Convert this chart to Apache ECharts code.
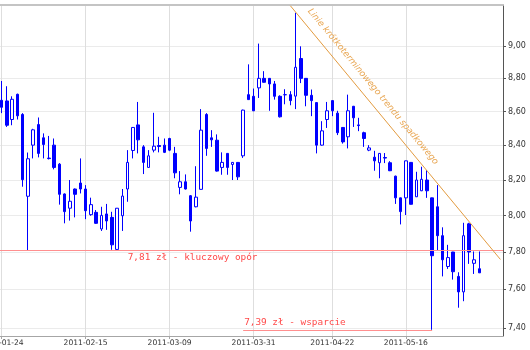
<!DOCTYPE html>
<html><head><meta charset="utf-8">
<script src="https://cdn.jsdelivr.net/npm/echarts@6/dist/echarts.min.js"></script>
<style>html,body{margin:0;padding:0;background:#fff}#c{width:530px;height:350px}</style>
</head><body><div id="c"></div>
<script>
const dates = ['2011-01-24','2011-01-25','2011-01-26','2011-01-27','2011-01-28',
'2011-01-31','2011-02-01','2011-02-02','2011-02-03','2011-02-04',
'2011-02-07','2011-02-08','2011-02-09','2011-02-10','2011-02-11',
'2011-02-14','2011-02-15','2011-02-16','2011-02-17','2011-02-18',
'2011-02-21','2011-02-22','2011-02-23','2011-02-24','2011-02-25',
'2011-02-28','2011-03-01','2011-03-02','2011-03-03','2011-03-04',
'2011-03-07','2011-03-08','2011-03-09','2011-03-10','2011-03-11',
'2011-03-14','2011-03-15','2011-03-16','2011-03-17','2011-03-18',
'2011-03-21','2011-03-22','2011-03-23','2011-03-24','2011-03-25',
'2011-03-28','2011-03-29','2011-03-30','2011-03-31','2011-04-01',
'2011-04-04','2011-04-05','2011-04-06','2011-04-07','2011-04-08',
'2011-04-11','2011-04-12','2011-04-13','2011-04-14','2011-04-15',
'2011-04-18','2011-04-19','2011-04-20','2011-04-22',
'2011-04-26','2011-04-27','2011-04-28','2011-04-29',
'2011-05-02','2011-05-04','2011-05-05','2011-05-06',
'2011-05-09','2011-05-10','2011-05-11','2011-05-12','2011-05-13',
'2011-05-16','2011-05-17','2011-05-18','2011-05-19','2011-05-20',
'2011-05-23','2011-05-24','2011-05-25','2011-05-26','2011-05-27',
'2011-05-30','2011-05-31','2011-06-01','2011-06-02','2011-06-03'];

const opens = [8.667,8.663,8.552,8.703,8.582,8.108,8.401,8.522,8.444,8.326,
8.401,8.291,8.121,8.041,8.149,8.183,8.149,8.005,8.018,7.926,
8.009,7.990,7.814,7.999,8.149,8.370,8.520,8.391,8.272,8.372,
8.399,8.401,8.440,8.353,8.158,8.190,8.111,8.049,8.147,8.582,
8.444,8.430,8.272,8.353,8.289,8.301,8.339,8.701,8.691,8.742,
8.800,8.800,8.766,8.691,8.701,8.701,8.692,8.922,8.800,8.697,
8.653,8.401,8.552,8.665,8.590,8.505,8.450,8.631,8.520,8.474,
8.372,8.331,8.299,8.329,8.299,8.222,8.099,8.099,8.301,8.105,
8.139,8.200,8.099,8.049,7.889,7.722,7.800,7.669,7.587,7.954,
7.739,7.710];

const closes = [8.625,8.518,8.673,8.574,8.202,8.322,8.491,8.353,8.405,8.323,
8.272,8.119,8.022,8.080,8.119,8.149,8.027,8.061,7.957,8.001,
7.970,7.839,8.041,8.109,8.301,8.505,8.432,8.301,8.339,8.395,
8.393,8.359,8.372,8.241,8.190,8.149,7.970,8.103,8.489,8.382,
8.432,8.251,8.301,8.272,8.301,8.218,8.608,8.671,8.604,8.800,
8.776,8.766,8.691,8.568,8.700,8.665,8.868,8.800,8.697,8.665,
8.401,8.485,8.604,8.604,8.474,8.420,8.604,8.562,8.516,8.440,
8.385,8.310,8.353,8.326,8.253,8.099,8.022,8.310,8.063,8.200,
8.204,8.139,7.780,7.889,7.758,7.770,7.694,7.587,7.889,7.800,
7.758,7.688];

const lows = [8.590,8.508,8.518,8.552,8.162,7.810,8.324,8.330,8.324,8.318,
8.261,8.061,7.957,7.972,7.990,8.124,7.980,7.999,7.954,7.915,
7.921,7.812,7.810,7.915,8.077,8.324,8.353,8.234,8.271,8.359,
8.359,8.355,8.366,8.210,8.119,8.146,7.911,8.046,8.146,8.339,
8.391,8.248,8.230,8.230,8.200,8.200,8.327,8.670,8.602,8.681,
8.774,8.604,8.671,8.564,8.643,8.637,8.614,8.771,8.631,8.572,
8.353,8.398,8.502,8.572,8.460,8.410,8.382,8.508,8.483,8.391,
8.366,8.253,8.210,8.297,8.251,8.065,7.951,8.003,8.062,8.104,
8.137,8.099,7.390,7.807,7.669,7.709,7.652,7.504,7.538,7.736,
7.682,7.687];

const highs = [8.784,8.752,8.691,8.707,8.590,8.358,8.497,8.564,8.470,8.455,
8.440,8.297,8.124,8.200,8.152,8.324,8.171,8.100,8.031,8.049,
8.065,8.021,8.042,8.149,8.372,8.507,8.657,8.401,8.372,8.592,
8.450,8.440,8.444,8.391,8.251,8.232,8.115,8.279,8.614,8.590,
8.489,8.464,8.359,8.355,8.303,8.303,8.611,8.886,8.738,9.015,
8.844,8.801,8.784,8.697,8.734,8.722,9.210,8.998,8.801,8.732,
8.655,8.542,8.657,8.667,8.604,8.506,8.701,8.633,8.562,8.480,
8.401,8.368,8.355,8.355,8.308,8.225,8.100,8.311,8.303,8.247,
8.276,8.257,8.100,8.171,7.935,7.839,7.801,7.691,7.960,7.960,
7.803,7.803];

const dateLabels = ['2011-01-24','2011-02-15','2011-03-09','2011-03-31','2011-04-22','2011-05-16'];
const priceTicks = [7.4, 7.6, 7.8, 8.0, 8.2, 8.4, 8.6, 8.8, 9.0];

const resistanceValue = 7.81;
const resistanceText = '7,81 zł - kluczowy opór';
const supportValue = 7.39;
const supportText = '7,39 zł - wsparcie';
const supportFrom = '2011-03-29';
const supportTo = '2011-05-23';
const trendText = 'Linie krótkoterminowego trendu spadkowego';
const trendStartDate = '2011-04-11';
const trendStartValue = 9.255;
const trendEndValue = 7.76;

// a few empty slots after the last session (blank space before the price axis)
const xCats = dates.concat(['', ' ', '  ', '   ']);
const ohlc = dates.map((d, i) => [opens[i], closes[i], lows[i], highs[i]]);
const isLabelDay = (idx, val) => dateLabels.indexOf(val) >= 0;
const fmtPrice = v => Number(v).toFixed(2).replace('.', ',');

const chart = echarts.init(document.getElementById('c'), null, {renderer: 'canvas'});
chart.setOption({
  animation: false,
  backgroundColor: '#ffffff',
  grid: {left: -1, right: 27, top: 5, bottom: 14, containLabel: false, outerBoundsMode: 'none'},
  xAxis: [{
    type: 'category', data: xCats, boundaryGap: true,
    axisLine: {show: true, lineStyle: {color: '#a6a6a6', width: 1}},
    axisTick: {show: true, alignWithLabel: true, interval: isLabelDay, length: 3, lineStyle: {color: '#a6a6a6'}},
    axisLabel: {show: true, interval: isLabelDay, margin: 3, color: '#333', fontSize: 7.6, fontFamily: 'DejaVu Sans', hideOverlap: false},
    splitLine: {show: true, interval: isLabelDay, alignWithLabel: true, lineStyle: {color: '#dedede', width: 1}}
  }, {
    type: 'category', data: xCats, position: 'top', boundaryGap: true,
    axisLine: {show: true, lineStyle: {color: '#c4c4c4', width: 2}},
    axisTick: {show: false}, axisLabel: {show: false}, splitLine: {show: false}
  }],
  yAxis: {
    type: 'log', logBase: 10, position: 'right', min: 7.358, max: 9.26,
    axisLine: {show: true, lineStyle: {color: '#555', width: 1}},
    axisTick: {show: true, length: 3, customValues: priceTicks, lineStyle: {color: '#555'}},
    axisLabel: {show: true, customValues: priceTicks, formatter: fmtPrice, color: '#333', fontSize: 8, fontFamily: 'DejaVu Sans', margin: 5},
    splitLine: {show: true, lineStyle: {color: '#ebebeb', width: 1}}
  },
  series: [{
    type: 'candlestick',
    data: ohlc,
    barWidth: 3,
    itemStyle: {color: '#ffffff', color0: '#0000ff', borderColor: '#0000ff', borderColor0: '#0000ff', borderColorDoji: '#0000ff', borderWidth: 1},
    markLine: {
      silent: true,
      symbol: ['none', 'none'],
      animation: false,
      data: [
        {yAxis: resistanceValue,
         lineStyle: {color: '#ff8f8f', width: 1, type: 'solid'},
         label: {show: true, formatter: resistanceText, position: 'insideStartBottom', distance: [128.7, 3],
                 color: '#ff4a4a', fontSize: 9.4, fontFamily: 'DejaVu Sans Mono'}},
        [{coord: [supportFrom, supportValue],
          lineStyle: {color: '#ff8f8f', width: 1, type: 'solid'},
          label: {show: true, formatter: supportText, position: 'insideStartTop', distance: [1, 3],
                  color: '#ff4a4a', fontSize: 9.4, fontFamily: 'DejaVu Sans Mono'}},
         {coord: [supportTo, supportValue]}],
        [{coord: [trendStartDate, trendStartValue],
          lineStyle: {color: '#e39b3f', width: 1, type: 'solid'},
          label: {show: true, formatter: trendText, position: 'insideStartTop', distance: [15, 7.5],
                  color: '#e8a550', fontSize: 8.8, fontStyle: 'italic', fontFamily: 'DejaVu Sans'}},
         {coord: [xCats.length - 1, trendEndValue]}]
      ]
    }
  }]
});
</script>
</body></html>
